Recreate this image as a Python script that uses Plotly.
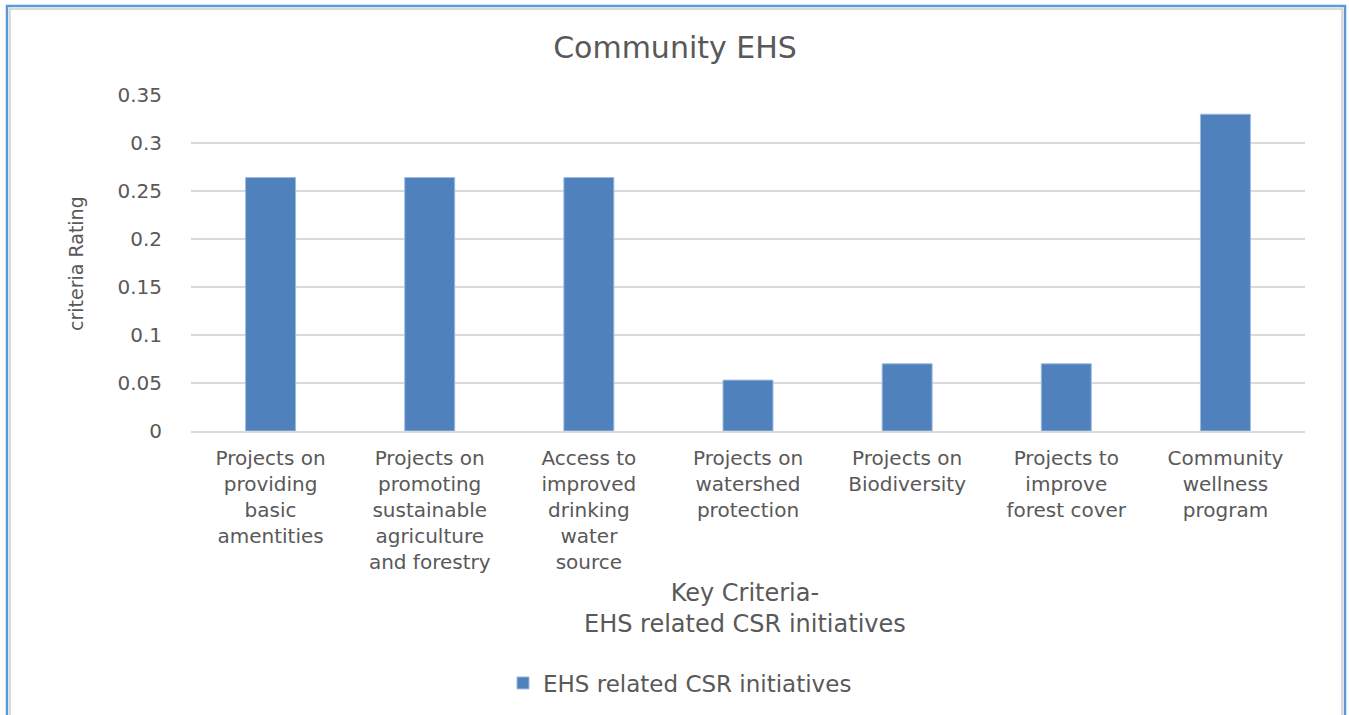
import plotly.graph_objects as go

categories = [
    "Projects on<br>providing<br>basic<br>amentities",
    "Projects on<br>promoting<br>sustainable<br>agriculture<br>and forestry",
    "Access to<br>improved<br>drinking<br>water<br>source",
    "Projects on<br>watershed<br>protection",
    "Projects on<br>Biodiversity",
    "Projects to<br>improve<br>forest cover",
    "Community<br>wellness<br>program",
]
values = [0.264, 0.264, 0.264, 0.053, 0.07, 0.07, 0.33]
series_name = "EHS related CSR initiatives"
tick_vals = [0, 0.05, 0.1, 0.15, 0.2, 0.25, 0.3, 0.35]
tick_text = ["0", "0.05", "0.1", "0.15", "0.2", "0.25", "0.3", "0.35"]

W, H = 1349, 715
L, R, T, B = 191, 44, 95, 284
pw, ph = W - L - R, H - T - B

def px(x):
    return (x - L) / pw

def py(y):
    return (H - B - y) / ph

font = "DejaVu Sans, Verdana, sans-serif"
grey = "#595959"

fig = go.Figure()
fig.add_trace(go.Bar(
    x=categories, y=values, name=series_name,
    marker=dict(color="#4f81bd", line=dict(color="#9dbbe0", width=1)),
    showlegend=True,
))

fig.update_layout(
    width=W, height=H,
    margin=dict(l=L, r=R, t=T, b=B, autoexpand=False),
    paper_bgcolor="white", plot_bgcolor="white",
    bargap=0.686,
    title=dict(text="Community EHS", x=675 / W, xref="container", xanchor="center",
               y=1 - 47 / H, yanchor="middle", yref="container",
               font=dict(family=font, size=30, color=grey)),
    xaxis=dict(showgrid=False, showline=True, linecolor="#d9d9d9", linewidth=1.5,
               ticks="", tickfont=dict(family=font, size=20, color=grey),
               tickangle=0, range=[-0.5, 6.5], ticklabelstandoff=8),
    yaxis=dict(range=[0, 0.35], tickvals=tick_vals, ticktext=tick_text,
               showgrid=True, gridcolor="#d9d9d9", gridwidth=1.5, zeroline=False,
               tickfont=dict(family=font, size=20, color=grey),
               ticks="", ticklabelstandoff=28),
    legend=dict(orientation="h", x=px(680), xanchor="center", y=py(683), yanchor="middle",
                font=dict(family=font, size=23, color=grey), itemwidth=30),
    showlegend=True,
)

fig.add_annotation(text="Key Criteria-<br>EHS related CSR initiatives", xref="paper", yref="paper",
                   x=px(745), y=py(608), xanchor="center", yanchor="middle", showarrow=False,
                   font=dict(family=font, size=24, color=grey))
fig.add_annotation(text="criteria Rating", xref="paper", yref="paper", textangle=-90,
                   x=px(76), y=py(264), xanchor="center", yanchor="middle", showarrow=False,
                   font=dict(family=font, size=19, color=grey))

# outer frame
fig.add_shape(type="rect", xref="paper", yref="paper",
              x0=px(10), x1=px(1342), y0=py(730), y1=py(9),
              line=dict(color="#d9d9d9", width=2), layer="below")
fig.add_shape(type="rect", xref="paper", yref="paper",
              x0=px(7), x1=px(1345), y0=py(740), y1=py(6),
              line=dict(color="#5b9bd5", width=2.5), layer="below")

fig.write_html("out.html", config={"displayModeBar": False},
               post_script="document.body.style.margin='0px';")
